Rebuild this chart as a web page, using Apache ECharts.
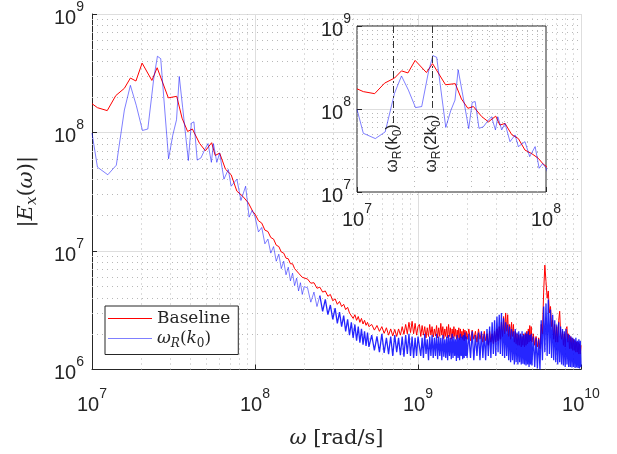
<!DOCTYPE html>
<html lang="en" style="height: 100%">
<head>
  <meta charset="utf-8">
  <script type="text/javascript" src="https://cdn.jsdelivr.net/npm/echarts@6/dist/echarts.min.js"></script>
</head>
<body style="height: 100%; margin: 0; background: #fff">
  <div id="main" style="height: 454px; width: 617px"></div>

  <script type="text/javascript">
    // low frequency part, read point by point (freq x1e7 rad/s, value x1e8)
    var baseLowF = [1.00,1.08,1.24,1.40,1.58,1.72,1.86,2.03,2.33,2.51,2.94,3.31,3.57,3.86,4.13,4.57,4.96,5.42,5.70,6.07,6.59,7.14,7.74,8.40,9.10,9.70];
    var baseLowV = [1.75,1.62,1.53,2.05,2.36,2.88,2.72,3.85,2.75,3.52,1.96,2.02,1.32,1.02,1.07,0.81,0.70,0.82,0.64,0.67,0.49,0.44,0.32,0.29,0.255,0.215];
    var wrLowF = [1.00,1.08,1.25,1.41,1.58,1.72,1.87,2.04,2.20,2.39,2.52,2.64,2.95,3.13,3.30,3.43,3.60,3.90,4.07,4.22,
                  4.42,4.66,4.96,5.15,5.40,5.56,5.83,6.07,6.45,6.86,7.14,7.74,8.20,8.76,9.20,9.60];
    var wrLowV = [0.99,0.51,0.44,0.53,1.55,2.50,1.69,1.04,1.07,2.82,4.40,4.20,0.60,0.95,1.28,2.97,1.62,0.58,1.20,1.23,
                  0.585,0.61,0.736,0.807,0.56,0.807,0.56,0.67,0.404,0.487,0.352,0.404,0.267,0.352,0.193,0.22];

    // high frequency part (freq x1e8 rad/s, values x1e6)
    var hfFreq = [1.00,1.05,1.10,1.15,1.20,1.25,1.30,1.35,1.40,1.45,1.50,1.55,1.60,1.65,1.70,1.75,1.80,1.85,1.90,1.95,2.00,
      2.1,2.2,2.3,2.4,2.5,2.6,2.7,2.8,2.9,3.0,3.1,3.2,3.3,3.4,3.5,3.6,3.7,3.8,3.9,4.0,4.1,4.2,4.3,4.4,4.5,4.6,4.7,4.8,4.9,5.0,
      5.2,5.4,5.6,5.8,6.0,6.2,6.4,6.6,6.8,7.0,7.2,7.4,7.6,7.8,8.0,8.2,8.4,8.6,8.8,9.0,9.2,9.4,9.6,9.8,10.0,
      10.2,10.4,10.6,10.8,11,11.2,11.4,11.6,11.8,12,12.2,12.4,12.6,12.8,13,13.2,13.4,13.6,13.8,14,
      14.2,14.4,14.6,14.8,15,15.2,15.4,15.6,15.8,16,16.2,16.4,16.6,16.8,17,17.2,17.4,17.6,17.8,18,
      18.2,18.4,18.6,18.8,19,19.2,19.4,19.6,19.8,20,
      20.5,21,21.5,22,22.5,23,23.5,24,24.5,25,25.5,26,26.5,27,27.5,28,28.5,29,29.5,30,
      30.5,31,31.5,32,32.5,33,33.5,34,34.5,35,35.5,36,36.5,37,37.5,38,38.5,39,39.5,40,
      40.5,41,41.5,42,42.5,43,43.5,44,44.5,45,45.5,46,46.5,47,47.5,48,48.5,49,49.5,50,
      51,52,53,54,55,56,57,58,59,60,61,62,63,64,65,66,67,68,69,70,
      71,72,73,74,75,76,77,78,79,80,81,82,83,84,85,86,87,88,89,90,
      91,92,93,94,95,96,97,98,99,100];
    var hfBase = [20.5,18.0,17.2,15.0,14.6,13.0,12.6,11.2,10.9,9.8,9.6,8.7,8.6,7.8,7.8,7.1,7.2,6.5,6.6,6.0,6.1,
      5.8,5.35,5.4,4.85,4.95,4.5,4.6,4.15,4.3,3.8,3.95,3.55,3.75,3.4,3.55,3.2,3.35,3.0,3.1,2.7,2.9,2.6,2.8,2.5,2.7,2.42,2.6,2.36,2.5,2.3,
      2.4,2.15,2.35,2.1,2.3,2.02,2.25,1.95,2.2,1.92,2.18,1.9,2.2,1.95,2.3,1.98,2.4,2.0,2.5,2.05,2.55,2.0,2.45,1.95,2.3,
      2.4,1.9,2.35,1.95,2.3,1.85,2.25,1.9,2.4,1.95,2.3,1.88,2.2,1.92,2.35,1.85,2.25,1.9,2.45,1.95,
      2.3,1.82,2.2,1.9,2.3,1.85,2.4,1.9,2.25,1.8,2.2,1.85,2.3,1.9,2.2,1.8,2.15,1.85,2.25,1.78,
      2.2,1.85,2.1,1.8,2.2,1.75,2.15,1.82,2.1,1.8,
      2.2,1.75,2.15,1.8,2.1,1.7,2.2,1.8,2.05,1.7,2.1,1.75,2.0,1.6,2.1,1.7,2.0,1.65,2.1,1.7,
      2.2,1.75,2.3,1.8,2.5,1.9,2.8,2.0,3.0,2.1,2.9,1.9,2.4,1.8,2.5,1.9,2.4,1.7,2.1,1.65,
      2.0,1.6,1.95,1.6,2.0,1.55,1.9,1.6,2.0,1.55,2.0,1.6,2.1,1.65,2.2,1.7,2.35,1.75,2.3,1.7,
      2.0,1.6,1.9,1.55,1.85,1.5,2.4,2.0,4.5,7.6,5.5,4.0,4.6,3.0,3.4,2.3,2.6,1.8,2.4,1.7,
      2.3,1.7,2.6,3.1,2.0,1.8,2.1,1.6,2.0,1.55,2.2,2.3,1.7,2.0,1.5,1.9,1.5,1.85,1.45,1.8,
      1.45,1.75,1.4,1.7,1.4,1.7,1.35,1.65,1.35,1.6];
    var hfWr = [19.5,14.5,15.8,11.5,12.6,9.6,10.9,8.2,9.4,7.1,8.2,6.3,7.3,5.6,6.5,5.1,5.9,4.6,5.4,4.3,5.0,
      4.9,3.7,4.5,3.4,4.2,3.1,3.9,2.9,3.5,2.65,3.3,2.45,3.05,2.3,2.85,2.1,2.65,1.95,2.5,1.85,2.4,1.75,2.3,1.68,2.2,1.62,2.1,1.58,2.05,1.55,
      1.95,1.45,1.9,1.4,2.0,1.38,1.85,1.35,1.9,1.3,1.95,1.4,1.85,1.32,1.9,1.28,1.95,1.35,2.0,1.3,1.9,1.25,1.85,1.3,1.9,
      1.95,1.3,1.85,1.25,2.0,1.35,1.8,1.2,1.9,1.3,1.95,1.25,1.85,1.3,2.0,1.22,1.9,1.3,1.85,1.2,
      1.95,1.28,1.8,1.25,1.9,1.2,1.95,1.3,1.85,1.22,2.0,1.25,1.9,1.3,1.8,1.18,1.95,1.25,1.85,1.2,
      2.0,1.3,1.9,1.22,1.95,1.25,2.05,1.3,1.9,1.25,
      2.0,1.25,2.1,1.2,1.95,1.3,2.05,1.2,2.1,1.25,2.0,1.2,2.2,1.3,2.3,1.25,2.5,1.35,2.6,1.3,
      2.8,1.4,2.9,1.35,3.0,1.3,2.7,1.25,2.5,1.3,2.4,1.2,2.3,1.15,2.2,1.2,2.1,1.1,2.2,1.15,
      2.05,1.1,2.1,1.15,2.0,1.1,2.1,1.12,1.95,1.1,2.05,1.08,2.0,1.1,2.1,1.05,1.95,1.1,2.0,1.08,
      1.9,1.05,1.85,1.02,1.8,1.0,2.6,1.2,3.4,1.4,3.6,1.3,3.9,1.35,3.2,1.25,2.9,1.2,2.6,1.15,
      2.4,1.1,2.5,1.15,2.3,1.1,2.2,1.08,2.1,1.05,2.2,1.1,2.0,1.05,1.95,1.05,1.9,1.04,1.85,1.05,
      1.8,1.03,1.85,1.04,1.75,1.03,1.8,1.02,1.75,1.05];

    // omega_R marker lines in the inset (freq, line lower end, label start)
    var markFreq = [1.56e7, 2.5e7];
    var markEnd = [6.4e7, 1.03e8];
    var markLabelAt = 1.72e7;

    var baseData = baseLowF.map(function (f, i) { return [f * 1e7, baseLowV[i] * 1e8]; })
      .concat(hfFreq.map(function (f, i) { return [f * 1e8, hfBase[i] * 1e6]; }));
    var wrData = wrLowF.map(function (f, i) { return [f * 1e7, wrLowV[i] * 1e8]; })
      .concat(hfFreq.map(function (f, i) { return [f * 1e8, hfWr[i] * 1e6]; }));
    // the dense part of the blue curve overlaps itself and looks saturated
    var wrSparse = wrData.filter(function (d) { return d[0] <= 2.5e8; });
    var wrDense = wrData.filter(function (d) { return d[0] >= 2.5e8; });

    var TXT = '#262626';
    var RED = '#ff0000';
    var BLUE = 'rgba(0,0,255,0.5)';
    var BLUE_DENSE = 'rgba(0,0,255,0.85)';

    function minorLines(lo, hi, key) {
      var out = [];
      for (var e = lo; e < hi; e++) {
        for (var k = 2; k <= 9; k++) {
          var o = {}; o[key] = k * Math.pow(10, e); out.push(o);
        }
      }
      return out;
    }

    function powLabel(v) {
      return '{b|10}{s|' + Math.round(Math.log10(v)) + '}';
    }
    var powRich = {
      b: { fontSize: 20, fontFamily: 'Liberation Sans', color: TXT, lineHeight: 28, verticalAlign: 'bottom' },
      s: { fontSize: 14, fontFamily: 'Liberation Sans', color: TXT, lineHeight: 16, verticalAlign: 'top' }
    };
    var serif = 'DejaVu Serif';
    var mathRich = {
      n: { fontFamily: serif, fontSize: 21, color: TXT, lineHeight: 26 },
      i: { fontFamily: serif, fontSize: 21, fontStyle: 'italic', color: TXT, lineHeight: 26 },
      sub: { fontFamily: serif, fontSize: 15, fontStyle: 'italic', color: TXT, lineHeight: 16, verticalAlign: 'bottom' }
    };
    var legRich = {
      n: { fontFamily: serif, fontSize: 17, color: TXT, lineHeight: 22 },
      i: { fontFamily: serif, fontSize: 17, fontStyle: 'italic', color: TXT, lineHeight: 22 },
      si: { fontFamily: serif, fontSize: 12, fontStyle: 'italic', color: TXT, lineHeight: 13, verticalAlign: 'bottom' },
      sn: { fontFamily: serif, fontSize: 12, color: TXT, lineHeight: 13, verticalAlign: 'bottom' }
    };

    function logAxis(idx, min, max, z, labelMargin, extra) {
      var a = {
        type: 'log', logBase: 10, min: min, max: max, interval: 1, gridIndex: idx, z: z,
        axisLine: { show: true, lineStyle: { color: TXT, width: 1 } },
        axisTick: { show: true, inside: true, length: 5, lineStyle: { color: TXT } },
        axisLabel: { formatter: powLabel, rich: powRich, margin: labelMargin },
        splitLine: { show: true, lineStyle: { color: '#dedede', width: 1 } }
      };
      for (var k in extra) a[k] = extra[k];
      return a;
    }

    var dotted = { type: [1, 4], color: '#b8b8b8', width: 1 };

    var chart = echarts.init(document.getElementById('main'));
    var option = {
      animation: false,
      backgroundColor: '#fff',
      grid: [
        { left: 92, right: 36, top: 14, bottom: 82 },
        { left: 357, top: 26, width: 189, height: 166 }
      ],
      xAxis: [
        logAxis(0, 1e7, 1e10, 0, 18, {
          name: '{i|ω}  {n|[rad/s]}', nameLocation: 'middle', nameGap: 56,
          nameTextStyle: { rich: mathRich }
        }),
        logAxis(1, 1e7, 1e8, 6, 10, { axisLine: { show: false }, splitLine: { show: false } })
      ],
      yAxis: [
        logAxis(0, 1e6, 1e9, 0, 8, {
          name: '{n||}{i|E}{sub|x}{n|(}{i|ω}{n|)|}', nameLocation: 'middle', nameGap: 52,
          nameTextStyle: { rich: mathRich }
        }),
        logAxis(1, 1e7, 1e9, 6, 6, { axisLine: { show: false },
          splitLine: { show: true, lineStyle: { color: '#dedede', width: 1 }, showMinLine: false, showMaxLine: false } })
      ],
      legend: {
        data: ['Baseline', 'wr'],
        orient: 'vertical', left: 105, top: 306,
        padding: [4, 8, 5, 3], itemGap: 3,
        itemWidth: 44, itemHeight: 1.2, icon: 'rect',
        backgroundColor: '#fff', borderColor: TXT, borderWidth: 1,
        selectedMode: false, z: 10,
        formatter: function (name) {
          return name === 'Baseline' ? '{n|Baseline}' : '{i|ω}{si|R}{n|(}{i|k}{sn|0}{n|)}';
        },
        textStyle: { rich: legRich }
      },
      series: [
        // main minor grid
        { type: 'line', xAxisIndex: 0, yAxisIndex: 0, data: [], z: 1, silent: true,
          markLine: { z: 1, silent: true, symbol: ['none', 'none'], label: { show: false }, animation: false,
            lineStyle: dotted, emphasis: { disabled: true },
            data: minorLines(7, 10, 'xAxis').concat(minorLines(6, 9, 'yAxis')) } },
        { name: 'Baseline', type: 'line', xAxisIndex: 0, yAxisIndex: 0, data: baseData,
          showSymbol: false, symbol: 'none', z: 2,
          itemStyle: { color: RED }, lineStyle: { color: RED, width: 1 } },
        { name: 'wr', type: 'line', xAxisIndex: 0, yAxisIndex: 0, data: wrSparse,
          showSymbol: false, symbol: 'none', z: 2,
          itemStyle: { color: BLUE }, lineStyle: { color: BLUE, width: 1 } },
        { name: 'wr', type: 'line', xAxisIndex: 0, yAxisIndex: 0, data: wrDense,
          showSymbol: false, symbol: 'none', z: 2,
          itemStyle: { color: BLUE }, lineStyle: { color: BLUE_DENSE, width: 1.3 } },
        // inset backdrop and frame
        { type: 'line', xAxisIndex: 1, yAxisIndex: 1, data: [], z: 4, silent: true,
          markArea: { z: 4, silent: true, animation: false, label: { show: false }, emphasis: { disabled: true },
            itemStyle: { color: '#fff', opacity: 1, borderColor: TXT, borderWidth: 1 },
            data: [[{ coord: [1e7, 1e7] }, { coord: [1e8, 1e9] }]] } },
        // inset minor grid
        { type: 'line', xAxisIndex: 1, yAxisIndex: 1, data: [], z: 5, silent: true,
          markLine: { z: 5, silent: true, symbol: ['none', 'none'], label: { show: false }, animation: false,
            lineStyle: dotted, emphasis: { disabled: true },
            data: minorLines(7, 8, 'xAxis').concat(minorLines(7, 9, 'yAxis')) } },
        { name: 'Baseline', type: 'line', xAxisIndex: 1, yAxisIndex: 1, data: baseData,
          showSymbol: false, symbol: 'none', z: 7, clip: true,
          itemStyle: { color: RED }, lineStyle: { color: RED, width: 1 },
          markLine: { z: 8, silent: true, symbol: ['none', 'none'], label: { show: false }, animation: false,
            lineStyle: { type: [7, 3, 2, 3], color: '#333', width: 1 },
            emphasis: { disabled: true },
            data: markFreq.map(function (f, i) {
              return [{ coord: [f, 1e9] }, { coord: [f, markEnd[i]] }];
            }) } },
        { name: 'wr', type: 'line', xAxisIndex: 1, yAxisIndex: 1, data: wrData,
          showSymbol: false, symbol: 'none', z: 7, clip: true,
          itemStyle: { color: BLUE }, lineStyle: { color: BLUE, width: 1 } }
      ]
    };
    chart.setOption(option);

    // rotated omega_R labels under the marker lines
    var labRich = {
      a: { fontFamily: 'Liberation Sans', fontSize: 17, fill: TXT, lineHeight: 22 },
      s: { fontFamily: 'Liberation Sans', fontSize: 12, fill: TXT, lineHeight: 13, verticalAlign: 'bottom' }
    };
    var labText = ['{a|ω}{s|R}{a|(k}{s|0}{a|)}', '{a|ω}{s|R}{a|(2k}{s|0}{a|)}'];
    var graphics = markFreq.map(function (f, i) {
      var p = chart.convertToPixel({ gridIndex: 1 }, [f, markLabelAt]);
      return {
        type: 'text', x: p[0] - 1, y: p[1], rotation: Math.PI / 2, z: 20,
        style: { text: labText[i], rich: labRich, align: 'left', verticalAlign: 'middle', fill: TXT }
      };
    });
    chart.setOption({ graphic: graphics });
  </script>
</body>
</html>
